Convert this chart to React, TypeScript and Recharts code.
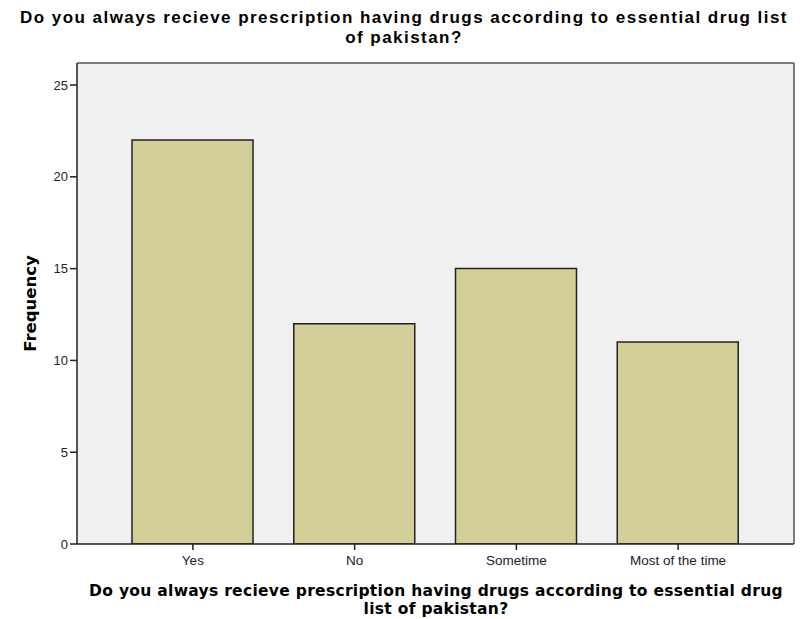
import React from 'react'
import { BarChart, Bar, XAxis, YAxis, CartesianGrid } from 'recharts'

const categories = ['Yes', 'No', 'Sometime', 'Most of the time']
const frequencies = [22, 12, 15, 11]
const yTicks = [0, 5, 10, 15, 20, 25]

const titleLines = ['Do you always recieve prescription having drugs according to essential drug list', 'of pakistan?']
const xTitleLines = ['Do you always recieve prescription having drugs according to essential drug', 'list of pakistan?']

const data = categories.map((name, i) => ({ name, value: frequencies[i] }))

const tickFont = 'Arial, "Liberation Sans", sans-serif'
const labelFont = '"DejaVu Sans", Verdana, sans-serif'

const TextLine = ({ text, top, left, width, style }: any) => (
  <div
    style={{
      position: 'absolute',
      left,
      top,
      width,
      height: 19,
      lineHeight: '19px',
      textAlign: 'center',
      whiteSpace: 'nowrap',
      fontWeight: 'bold',
      color: '#000',
      ...style,
    }}
  >
    {text}
  </div>
)

export default function App() {
  const titleStyle = { fontSize: 17, letterSpacing: 1.45, fontFamily: tickFont }
  const xTitleStyle = { fontSize: 15.5, letterSpacing: 0.3, fontFamily: labelFont }
  return (
    <div style={{ position: 'absolute', left: 0, top: 0, width: 800, height: 619, background: '#fff', fontFamily: tickFont }}>
      <TextLine text={titleLines[0]} top={8} left={0} width={808} style={titleStyle} />
      <TextLine text={titleLines[1]} top={28} left={0} width={808} style={titleStyle} />
      <BarChart
        width={800}
        height={619}
        data={data}
        margin={{ top: 63, right: 6, left: 0, bottom: 0 }}
        barCategoryGap={0}
      >
        <CartesianGrid
          fill="#f0f0f0"
          stroke="#555"
          strokeWidth={1.5}
          horizontalCoordinatesGenerator={({ offset }: any) => [offset.top]}
          verticalCoordinatesGenerator={({ offset }: any) => [offset.left + offset.width]}
        />
        <XAxis
          dataKey="name"
          padding={{ left: 35, right: 35 }}
          axisLine={{ stroke: '#222', strokeWidth: 1.5 }}
          tickLine={{ stroke: '#222', strokeWidth: 1.5 }}
          tickSize={6}
          tickMargin={5}
          tick={{ fill: '#222', fontSize: 13.5, fontFamily: tickFont }}
          interval={0}
          height={75}
        />
        <YAxis
          domain={[0, 26.2]}
          ticks={yTicks}
          allowDataOverflow
          width={77}
          axisLine={{ stroke: '#222', strokeWidth: 1.5 }}
          tickLine={{ stroke: '#222', strokeWidth: 1.5 }}
          tickSize={7}
          tick={{ fill: '#222', fontSize: 13, fontFamily: tickFont }}
          label={{
            value: 'Frequency',
            angle: -90,
            position: 'insideLeft',
            offset: 30,
            style: { fontWeight: 'bold', fontSize: 16.5, fill: '#000', fontFamily: labelFont, textAnchor: 'middle' },
          }}
        />
        <Bar dataKey="value" fill="#d3ce97" stroke="#222" strokeWidth={1.5} barSize={121} isAnimationActive={false} />
      </BarChart>
      <TextLine text={xTitleLines[0]} top={582} left={40} width={792} style={xTitleStyle} />
      <TextLine text={xTitleLines[1]} top={600} left={40} width={792} style={xTitleStyle} />
    </div>
  )
}
